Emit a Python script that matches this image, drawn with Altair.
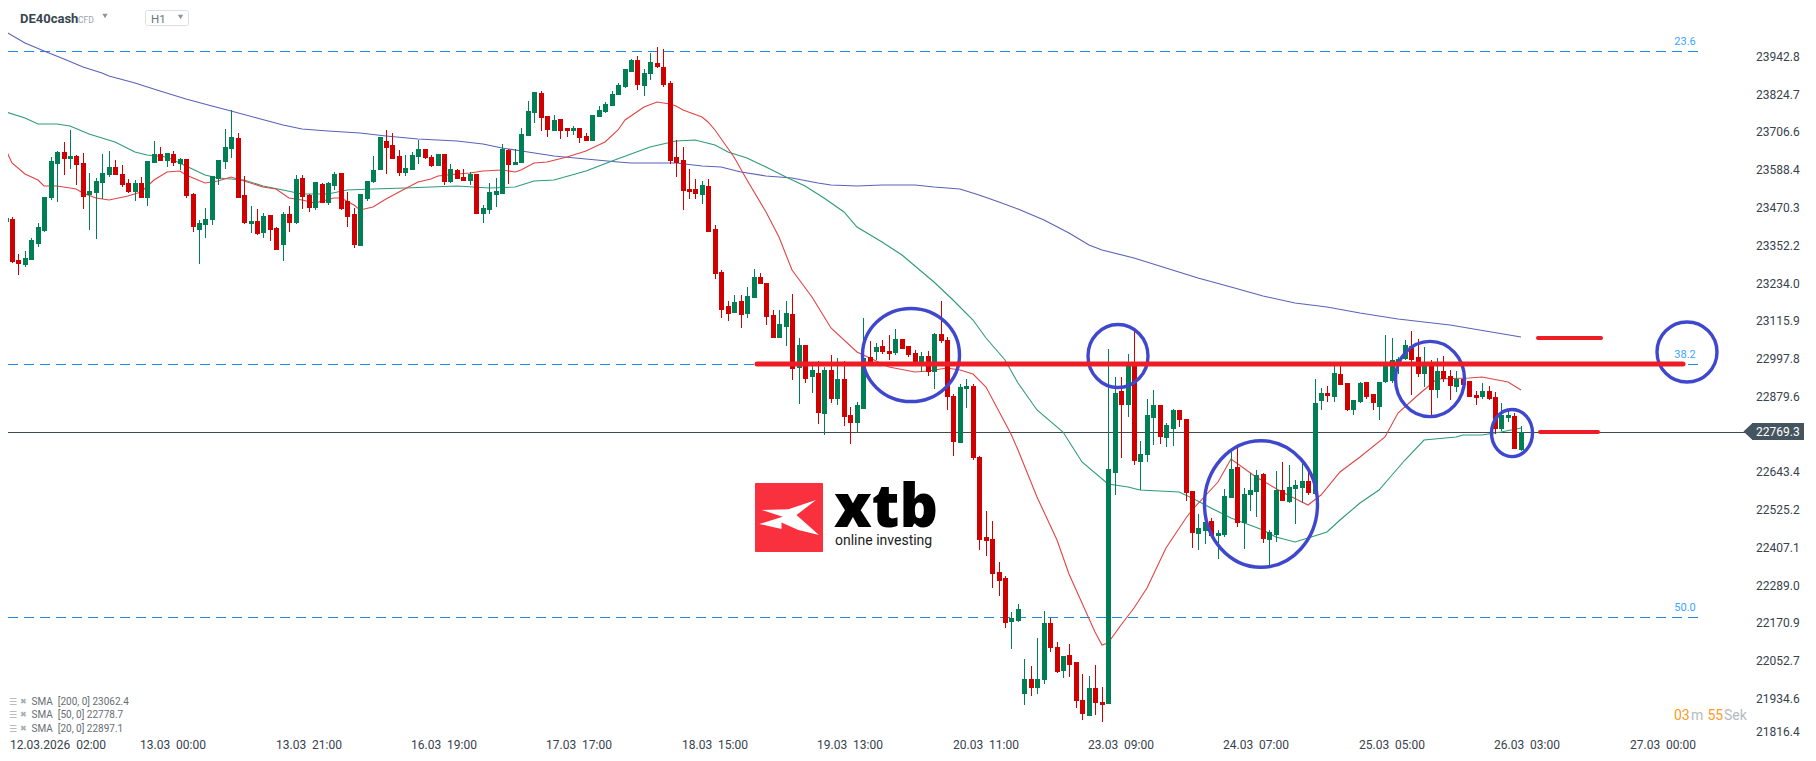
import altair as alt
import pandas as pd

opens = [23429,23439,23309,23294,23310,23360,23401,23505,23612,23650,
23628,23637,23615,23514,23521,23552,23577,23602,23580,23552,
23524,23552,23505,23615,23643,23621,23643,23612,23628,23517,
23404,23420,23436,23565,23618,23659,23694,23514,23423,23432,
23395,23451,23410,23357,23454,23426,23568,23514,23473,23549,
23489,23543,23584,23495,23454,23354,23502,23555,23593,23684,
23672,23637,23584,23593,23634,23659,23634,23606,23643,23555,
23593,23571,23558,23580,23454,23467,23514,23517,23656,23609,
23615,23700,23773,23836,23763,23716,23754,23725,23716,23725,
23700,23684,23760,23776,23795,23829,23854,23902,23939,23858,
23895,23930,23917,23867,23634,23624,23533,23533,23514,23543,
23407,23272,23165,23143,23180,23139,23190,23256,23237,23136,
23064,23098,23139,22969,23042,22941,22954,22824,22963,22872,
22935,22821,22796,22840,23004,23020,23039,23023,23017,23061,
23039,23017,22988,23007,22958,23076,23058,22881,22733,22903,
22913,22689,22437,22431,22327,22308,22169,22172,21942,21990,
21961,21987,22166,22090,22015,22065,22043,21923,21873,21961,
21917,21911,22638,22897,22853,22984,22673,22695,22812,22853,
22749,22777,22837,22808,22582,22446,22456,22487,22440,22443,
22560,22657,22481,22569,22579,22635,22427,22443,22585,22547,
22588,22591,22613,22572,22865,22890,22878,22950,22922,22837,
22862,22925,22887,22846,22925,22928,22984,22997,23038,23003,
22950,22989,22900,22960,22944,22909,22934,22928,22884,22878,
22897,22878,22777,22812,22818,22710]
closes = [23442,23303,23297,23316,23373,23413,23508,23621,23650,23628,
23637,23609,23508,23527,23558,23584,23602,23577,23546,23524,
23552,23505,23621,23643,23621,23647,23615,23628,23511,23413,
23426,23439,23574,23624,23665,23697,23505,23426,23432,23391,
23448,23404,23341,23454,23426,23565,23508,23473,23555,23489,
23552,23580,23470,23445,23357,23517,23558,23593,23697,23662,
23628,23584,23599,23640,23659,23631,23606,23643,23555,23596,
23565,23558,23580,23454,23473,23524,23527,23659,23609,23618,
23706,23779,23839,23757,23719,23750,23716,23716,23725,23694,
23684,23766,23782,23801,23832,23861,23911,23939,23861,23899,
23933,23917,23861,23621,23615,23527,23524,23517,23546,23398,
23265,23152,23139,23177,23136,23196,23256,23234,23130,23064,
23108,23143,22966,23042,22935,22963,22828,22963,22872,22935,
22815,22796,22853,23001,22984,23035,23020,23013,23061,23029,
23010,22984,23007,22957,23076,23054,22878,22736,22909,22913,
22686,22427,22424,22320,22298,22166,22182,22210,21990,21961,
21990,22166,22087,22012,22062,22034,21920,21879,21961,21914,
21908,22651,22890,22853,22984,22676,22698,22821,22853,22752,
22790,22837,22805,22575,22450,22465,22484,22440,22450,22566,
22651,22481,22572,22585,22632,22430,22453,22585,22550,22594,
22601,22613,22575,22859,22890,22881,22953,22915,22837,22868,
22922,22878,22859,22925,22978,22994,22999,23041,22994,22950,
22978,22900,22960,22934,22912,22934,22915,22878,22875,22897,
22871,22777,22821,22821,22714,22769.3]
highs = [23508,23445,23328,23338,23379,23426,23508,23634,23653,23681,
23719,23640,23647,23584,23568,23643,23653,23624,23609,23565,
23561,23571,23621,23684,23665,23647,23653,23631,23628,23521,
23436,23473,23574,23624,23722,23782,23710,23574,23480,23470,
23458,23451,23413,23461,23480,23577,23577,23517,23555,23552,
23555,23587,23584,23524,23473,23517,23558,23637,23697,23719,
23710,23656,23640,23650,23688,23659,23640,23643,23643,23612,
23596,23596,23587,23580,23483,23552,23568,23675,23659,23659,
23725,23810,23839,23842,23763,23766,23754,23725,23732,23725,
23710,23766,23795,23807,23842,23867,23911,23943,23952,23911,
23962,23980,23974,23873,23688,23665,23596,23565,23558,23565,
23420,23278,23179,23199,23199,23224,23281,23269,23237,23152,
23152,23180,23202,23064,23042,22976,22991,22974,23010,23001,
22991,22846,22862,23127,23054,23048,23058,23073,23092,23061,
23039,23026,23020,23023,23080,23180,23067,22887,22919,22935,
22919,22692,22519,22487,22358,22314,22201,22226,22053,22031,
22119,22204,22182,22106,22062,22100,22043,22005,21999,22034,
21964,23029,22941,22941,23013,23089,22739,22872,22900,22853,
22796,22840,22837,22808,22582,22510,22553,22497,22459,22588,
22705,22723,22591,22638,22648,22638,22459,22645,22673,22664,
22616,22676,22648,22934,22906,22912,22978,22978,22922,22868,
22925,22925,22887,22925,23073,23063,23005,23057,23085,23060,
23035,22994,23000,23007,22963,22960,22942,22928,22897,22922,
22912,22894,22859,22837,22827,22786]
lows = [23417,23299,23262,23289,23310,23350,23398,23499,23492,23577,
23596,23546,23470,23404,23376,23502,23571,23577,23539,23521,
23495,23505,23480,23615,23621,23602,23606,23593,23505,23398,
23297,23379,23420,23546,23596,23631,23505,23423,23395,23388,
23379,23369,23341,23306,23398,23423,23470,23461,23467,23489,
23483,23530,23467,23413,23347,23354,23495,23552,23593,23580,
23628,23574,23574,23593,23612,23628,23602,23606,23546,23552,
23565,23558,23546,23454,23426,23454,23476,23517,23549,23609,
23615,23700,23741,23716,23697,23716,23691,23697,23703,23678,
23684,23684,23760,23773,23795,23829,23851,23902,23845,23826,
23876,23914,23854,23612,23571,23467,23502,23502,23486,23398,
23250,23128,23118,23143,23095,23127,23190,23234,23105,23064,
23064,23039,22932,22856,22922,22891,22793,22758,22859,22853,
22787,22730,22765,22840,22979,22994,23013,22994,23010,23029,
23004,22979,22957,22944,22903,23048,22837,22692,22733,22843,
22679,22396,22377,22276,22251,22150,22084,22169,21908,21936,
21942,21974,22075,22009,21993,21996,21898,21860,21873,21876,
21854,21911,22569,22686,22815,22664,22585,22673,22727,22730,
22720,22723,22783,22550,22402,22396,22415,22440,22368,22437,
22560,22468,22399,22519,22500,22418,22338,22421,22550,22544,
22478,22544,22569,22569,22837,22862,22862,22915,22834,22821,
22859,22871,22837,22805,22922,22922,22952,22993,22884,22941,
22909,22818,22875,22925,22868,22894,22915,22878,22853,22871,
22868,22761,22771,22799,22714,22707]

sma200_i = [0,3,6,9,12,15,16,20,24,28,32,35,39,43,46,50,55,59,64,70,74,77,81,85,90,95,97,104,108,111,114,118,122,126,128,132,136,141,144,148,151,154,157,161,165,168,170,175,180,185,190,195,200,205,210,216,224,235]
sma200_v = [24027,23994,23969,23942,23918,23900,23890,23866,23841,23818,23795,23779,23756,23735,23723,23717,23708,23701,23692,23684,23676,23662,23650,23638,23628,23618,23615,23615,23607,23601,23588,23574,23567,23553,23546,23544,23547,23545,23539,23532,23513,23491,23471,23435,23393,23356,23340,23315,23285,23252,23223,23196,23173,23162,23141,23124,23105,23068]
sma50_i = [0,3,5,8,10,13,15,17,20,22,25,28,31,33,37,40,43,46,50,53,57,62,66,70,75,79,82,85,90,94,97,100,104,107,110,112,115,118,121,124,127,130,132,136,139,141,143,144,147,150,152,155,157,160,164,167,171,174,176,182,184,187,190,195,197,200,202,205,207,210,213,215,217,220,225,226,229,232,235]
sma50_v = [23775,23756,23739,23739,23733,23706,23695,23682,23649,23639,23633,23606,23577,23569,23561,23543,23530,23517,23516,23530,23533,23535,23540,23544,23535,23538,23559,23562,23591,23622,23643,23664,23685,23689,23672,23650,23630,23603,23572,23543,23504,23462,23415,23367,23325,23291,23255,23240,23183,23120,23063,22994,22921,22837,22769,22674,22604,22595,22585,22580,22559,22527,22496,22459,22436,22422,22433,22454,22490,22543,22585,22632,22680,22742,22751,22759,22759,22769,22779]
sma20_i = [0,1,3,5,6,8,10,11,12,14,16,19,21,23,25,27,28,31,33,35,37,40,42,44,46,48,51,52,54,55,57,59,61,64,66,67,70,72,74,77,79,80,82,84,87,90,93,95,96,99,101,103,104,105,108,109,110,113,115,118,120,122,125,128,132,137,141,143,146,148,150,152,156,157,160,163,165,167,169,170,171,173,175,177,180,183,184,188,190,194,198,202,204,207,210,214,216,219,222,227,229,233,235]
sma20_v = [23655,23614,23580,23561,23543,23543,23535,23534,23519,23506,23498,23511,23525,23561,23586,23591,23577,23553,23559,23571,23559,23540,23532,23504,23498,23488,23504,23504,23483,23467,23477,23502,23525,23555,23564,23575,23580,23585,23591,23593,23586,23593,23614,23619,23635,23654,23682,23719,23750,23792,23808,23801,23795,23782,23759,23745,23719,23635,23561,23462,23383,23278,23194,23094,23021,22973,22958,22960,22970,22963,22950,22910,22763,22711,22564,22427,22322,22228,22139,22098,22104,22160,22212,22275,22401,22496,22522,22611,22683,22627,22580,22538,22569,22643,22690,22753,22827,22884,22934,22937,22940,22924,22900]

fib_levels = [23967, 22981, 22184]
fib_labels = ["23.6", "38.2", "50.0"]

level_price = 22983
last_price = 22769.3
mark_prices = [23063, 22769]
circle_i = [140.5, 172.5, 194.7, 220.9, 233.6, 260.8]
circle_p = [23008.7, 23007.8, 22540.9, 22935.3, 22766, 23018.8]
circle_w = [97, 60, 113, 69, 41, 60]
circle_ratio = [0.96, 1.05, 1.12, 1.09, 1.15, 1.0]

y_tick_pos = [21823.7,21926.7,22045.7,22164.8,22283.6,22402.6,22521.7,22640.8,22878.9,22997.7,23118.3,23235.2,23354.3,23473.3,23592.1,23711.2,23830.2,23949.3]
y_tick_txt = ["21816.4","21934.6","22052.7","22170.9","22289.0","22407.1","22525.2","22643.4","22879.6","22997.8","23115.9","23234.0","23352.2","23470.3","23588.4","23706.6","23824.7","23942.8"]
x_tick_pos = [8.2,26,47,68,89,110,131,152,173,194,215,236,257]
x_tick_txt = ["12.03.2026  02:00","13.03  00:00","13.03  21:00","16.03  19:00","17.03  17:00","18.03  15:00","19.03  13:00","20.03  11:00","23.03  09:00","24.03  07:00","25.03  05:00","26.03  03:00","27.03  00:00"]

GREEN, RED = "#007f55", "#d00000"
X0, X1 = 0.380, 271.47
xs = alt.Scale(domain=[X0, X1], nice=False, zero=False, round=True, padding=0)
ys = alt.Scale(domain=[21819.6, 24103.3], nice=False, zero=False, round=True, padding=0)

nb = lambda s: s.replace(" ", "\u00a0")

X = lambda f="x": alt.X(f"{f}:Q", scale=xs, axis=None)
Y = lambda f="y": alt.Y(f"{f}:Q", scale=ys, axis=None)

candles = pd.DataFrame({"x": range(len(opens)), "o": opens, "h": highs, "l": lows, "c": closes})
candles["dir"] = ["up" if c >= o else "down" for o, c in zip(opens, closes)]
color = alt.Color("dir:N", scale=alt.Scale(domain=["up", "down"], range=[GREEN, RED]), legend=None)

layers = []
# price line
price_df = pd.DataFrame({"x": [X0], "x2": [269.8], "y": [last_price]})
layers.append(alt.Chart(price_df).mark_rule(color="#3e4a52", strokeWidth=1, yOffset=0.5).encode(
    x=X(), x2="x2:Q", y=Y()))
# axis labels
xt = pd.DataFrame({"x": x_tick_pos, "t": [nb(t) for t in x_tick_txt]})
layers.append(alt.Chart(xt).mark_text(font="Roboto", fontSize=12, color="#37424d", baseline="middle").encode(
    x=X(), y=alt.value(745 - 8), text="t:N"))
yt = pd.DataFrame({"y": y_tick_pos, "t": y_tick_txt})
layers.append(alt.Chart(yt).mark_text(font="Roboto", fontSize=12, color="#37424d", align="left", baseline="middle").encode(
    x=alt.value(1756 - 8), y=Y(), text="t:N"))
# fibonacci levels
fib_df = pd.DataFrame({"x": [X0] * 3, "x2": [262.8] * 3, "y": fib_levels, "t": fib_labels})
layers.append(alt.Chart(fib_df).mark_rule(color="#1e88e5", strokeWidth=1, strokeDash=[10, 6], yOffset=0.5).encode(
    x=X(), x2="x2:Q", y=Y()))
layers.append(alt.Chart(fib_df).mark_text(color="#3aa6ff", font="Roboto", fontSize=11, dy=-9, dx=0).encode(
    x=alt.value(1677), y=Y(), text="t:N"))
# moving averages
for idx, val, col in [(sma200_i, sma200_v, "#5a62b8"), (sma50_i, sma50_v, "#2e9b78"), (sma20_i, sma20_v, "#e04545")]:
    d = pd.DataFrame({"x": idx, "y": val})
    layers.append(alt.Chart(d).mark_line(color=col, strokeWidth=1.1).encode(x=X(), y=Y()))
# candles
layers.append(alt.Chart(candles).mark_rule(strokeWidth=1, xOffset=0.5).encode(x=X(), y=Y("l"), y2="h:Q", color=color))
layers.append(alt.Chart(candles).mark_bar(size=5, xOffset=0.5).encode(x=X(), y=Y("o"), y2="c:Q", color=color))
# hand-drawn circles
circ = pd.DataFrame({"x": circle_i, "y": circle_p, "size": [w * w for w in circle_w],
                     "shape": [f"M -1 0 A 1 {r} 0 1 1 1 0 A 1 {r} 0 1 1 -1 0 Z" for r in circle_ratio]})
layers.append(alt.Chart(circ).mark_point(filled=False, color="#3f48cc", strokeWidth=3.4, opacity=1).encode(
    x=X(), y=Y(), size=alt.Size("size:Q", scale=None), shape=alt.Shape("shape:N", scale=None)))
# hand-drawn red lines
red_df = pd.DataFrame({"x": [116.5, 237.7, 238.0], "x2": [260.2, 247.4, 247.0], "y": [level_price] + mark_prices,
                       "w": [5, 4, 4]})
layers.append(alt.Chart(red_df).mark_rule(color="#ee1c25", strokeCap="round").encode(
    x=X(), x2="x2:Q", y=Y(), strokeWidth=alt.StrokeWidth("w:Q", scale=None)))

one = alt.Data(values=[{"a": 1}])
def text(t, x, y, size, col, weight="normal", font="Roboto", align="left", baseline="middle"):
    return alt.Chart(one).mark_text(text=t, fontSize=size, color=col, fontWeight=weight, font=font, align=align,
                                    baseline=baseline).encode(x=alt.value(x - 8), y=alt.value(y - 8))
def tri(x, y, size, col="#8d949a"):
    return alt.Chart(one).mark_point(shape="triangle-down", filled=True, size=size, color=col, opacity=1).encode(
        x=alt.value(x - 8), y=alt.value(y - 8))
def box(x1, y1, x2, y2, **kw):
    return alt.Chart(one).mark_rect(**kw).encode(x=alt.value(x1 - 8), x2=alt.value(x2 - 8), y=alt.value(y1 - 8), y2=alt.value(y2 - 8))

# price tag
layers.append(box(1752, 423, 1804, 440, color="#455560"))
layers.append(alt.Chart(one).mark_point(shape="M 1 -1.9 L -1 0 L 1 1.9 Z", filled=True, size=81, color="#455560", opacity=1).encode(
    x=alt.value(1748 - 8), y=alt.value(431.5 - 8)))
layers.append(text("22769.3", 1756, 432, 12, "#ffffff"))
# header
layers.append(text("DE40cash", 20, 19, 13, "#37474f", "bold"))
layers.append(text("CFD", 78, 19.5, 8.5, "#9aa3a9"))
layers.append(tri(105, 16, 28))
layers.append(box(145.5, 10.5, 188.5, 25.5, fill="#ffffff", stroke="#dcdfe2", cornerRadius=2))
layers.append(text("H1", 151, 19.5, 11.5, "#6b757c"))
layers.append(tri(180.5, 17, 28))
# SMA legend
for row, lab in zip([701.5, 715, 729], ["SMA [200, 0] 23062.4", "SMA [50, 0] 22778.7", "SMA [20, 0] 22897.1"]):
    layers.append(text("\u2630", 9, row, 9, "#a9aeb2", font="DejaVu Sans"))
    layers.append(text("\u2716", 20, row, 8, "#a9aeb2", font="DejaVu Sans"))
    layers.append(text(nb(lab).replace("[", "\u00a0["), 31.5, row, 10, "#666e74"))
# countdown
layers.append(text("03", 1674, 716, 14, "#ff9a1f"))
layers.append(text("m", 1691, 716, 14, "#b4bbc0"))
layers.append(text("55", 1707.5, 716, 14, "#ff9a1f"))
layers.append(text("Sek", 1724, 716, 14, "#b4bbc0"))
# logo
layers.append(box(755, 483, 823, 552, color="#f9313f", cornerRadius=1))
logo = "M -.92 -.26 L -.03 -.28 L .89 -.59 L .24 -.09 L .99 .58 L .30 .41 L -.26 .16 L -.26 .38 L -1 .21 L -.22 -.03 Z"
layers.append(alt.Chart(one).mark_point(shape=logo, filled=True, size=3600, color="#ffffff", opacity=1).encode(
    x=alt.value(789.3 - 8), y=alt.value(517.7 - 8)))
layers.append(text("xtb", 834, 527, 60, "#000000", 800, font="Open Sans", baseline="alphabetic"))
layers.append(text("online investing", 835, 541, 14, "#222222"))

chart = alt.layer(*layers).properties(
    width=1748, height=725,
    padding={"left": 0, "top": 0, "right": 52, "bottom": 20},
    autosize=alt.AutoSizeParams(type="none"),
    background="#ffffff",
).configure_view(stroke=None)

chart.save("out.html", embed_options={"renderer": "svg", "actions": False})
